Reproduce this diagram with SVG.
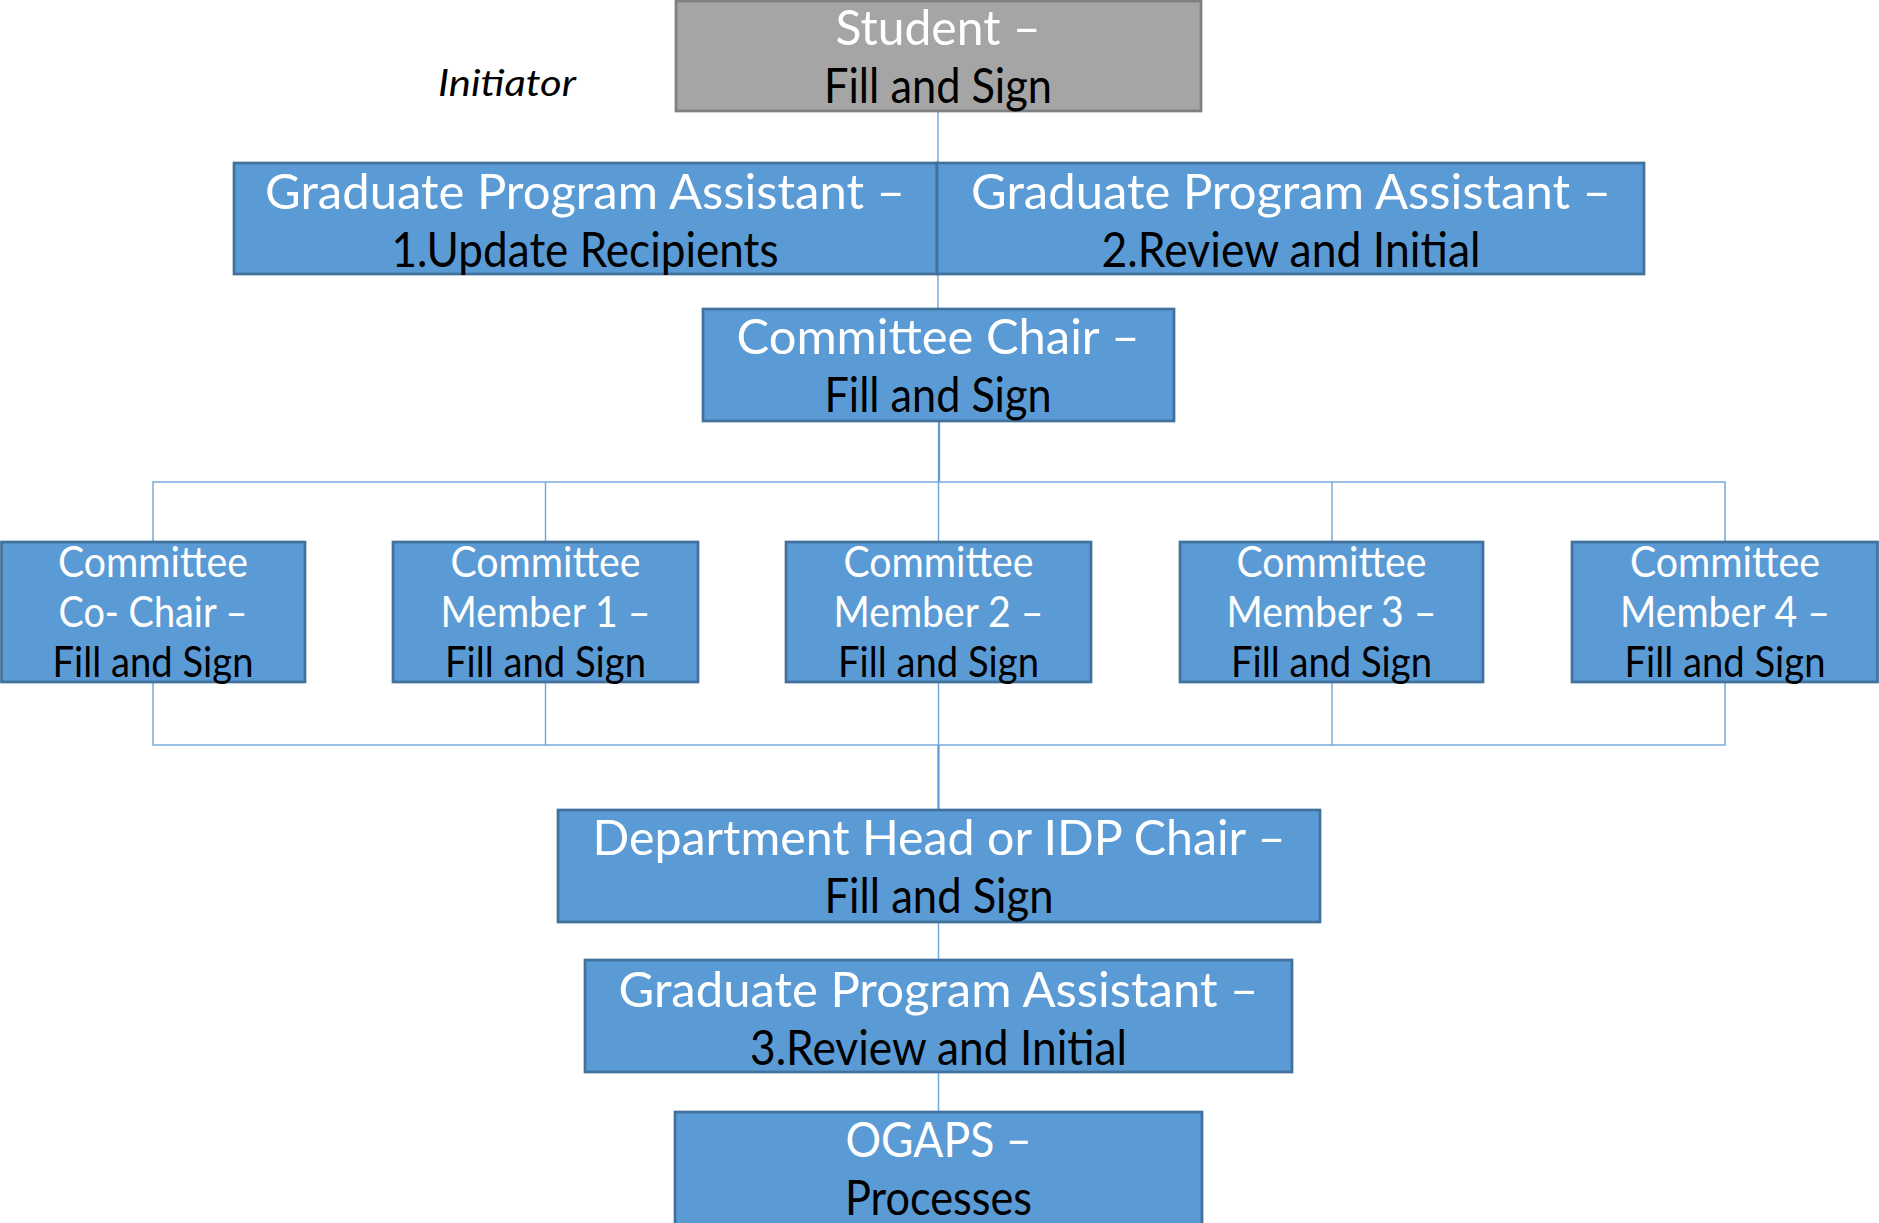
<svg xmlns="http://www.w3.org/2000/svg" width="1879" height="1223" viewBox="0 0 1879 1223">
<style>
  .box { fill: #5b9bd5; stroke: #41719c; stroke-width: 2.7; }
  .grey { fill: #a5a5a5; stroke: #7f7f7f; stroke-width: 2.7; }
  .conn { stroke: #7aaadc; stroke-width: 1.5; fill: none; }
  .connb { stroke: #5b9bd5; stroke-width: 2.2; fill: none; }
  text { font-family: Lato, "Open Sans", "Liberation Sans", sans-serif; text-anchor: middle; }
  .big { font-size: 49px; }
  .sm { font-size: 43px; }
  .w { fill: #ffffff; }
  .k { fill: #000000; }
</style>
<rect width="1879" height="1223" fill="#ffffff"/>
<g id="connectors">
  <line class="conn" x1="938" y1="111" x2="938" y2="163"/>
  <line class="conn" x1="938" y1="274" x2="938" y2="309"/>
  <line class="connb" x1="939" y1="421" x2="939" y2="482"/>
  <polyline class="conn" points="153,542 153,482 1725,482 1725,542"/>
  <line class="conn" x1="545.5" y1="482" x2="545.5" y2="542"/>
  <line class="conn" x1="938.5" y1="482" x2="938.5" y2="542"/>
  <line class="conn" x1="1332" y1="482" x2="1332" y2="542"/>
  <polyline class="conn" points="153,682 153,745 1725,745 1725,682"/>
  <line class="conn" x1="545.5" y1="682" x2="545.5" y2="745"/>
  <line class="conn" x1="938.5" y1="682" x2="938.5" y2="745"/>
  <line class="conn" x1="1332" y1="682" x2="1332" y2="745"/>
  <line class="connb" x1="938.5" y1="745" x2="938.5" y2="810"/>
  <line class="conn" x1="938.5" y1="922" x2="938.5" y2="960"/>
  <line class="conn" x1="938.5" y1="1072" x2="938.5" y2="1112"/>
</g>
<text x="507" y="96" font-size="37" font-style="italic" textLength="138" lengthAdjust="spacingAndGlyphs" fill="#000">Initiator</text>
<g id="student">
  <rect class="grey" x="676" y="1" width="525" height="110"/>
  <text class="big w" x="938" y="45" textLength="205" lengthAdjust="spacingAndGlyphs">Student –</text>
  <text class="big k" x="938" y="103" textLength="228" lengthAdjust="spacingAndGlyphs">Fill and Sign</text>
</g>
<g id="gpa1">
  <rect class="box" x="234" y="163" width="703" height="111"/>
  <text class="big w" x="585" y="209" textLength="640" lengthAdjust="spacingAndGlyphs">Graduate Program Assistant –</text>
  <text class="big k" x="585" y="267" textLength="387" lengthAdjust="spacingAndGlyphs">1.Update Recipients</text>
</g>
<g id="gpa2">
  <rect class="box" x="937" y="163" width="707" height="111"/>
  <text class="big w" x="1291" y="209" textLength="640" lengthAdjust="spacingAndGlyphs">Graduate Program Assistant –</text>
  <text class="big k" x="1291" y="267" textLength="379" lengthAdjust="spacingAndGlyphs">2.Review and Initial</text>
</g>
<g id="chair">
  <rect class="box" x="703" y="309" width="471" height="112"/>
  <text class="big w" x="938" y="354" textLength="403" lengthAdjust="spacingAndGlyphs">Committee Chair –</text>
  <text class="big k" x="938" y="412" textLength="227" lengthAdjust="spacingAndGlyphs">Fill and Sign</text>
</g>
<g id="cochair">
  <rect class="box" x="1.5" y="542" width="303.5" height="140"/>
  <text class="sm w" x="153" y="577" textLength="190" lengthAdjust="spacingAndGlyphs">Committee</text>
  <text class="sm w" x="153" y="627" textLength="189" lengthAdjust="spacingAndGlyphs">Co- Chair –</text>
  <text class="sm k" x="153" y="677" textLength="201" lengthAdjust="spacingAndGlyphs">Fill and Sign</text>
</g>
<g id="member1">
  <rect class="box" x="393" y="542" width="305" height="140"/>
  <text class="sm w" x="545.5" y="577" textLength="190" lengthAdjust="spacingAndGlyphs">Committee</text>
  <text class="sm w" x="545.5" y="627" textLength="210" lengthAdjust="spacingAndGlyphs">Member 1 –</text>
  <text class="sm k" x="545.5" y="677" textLength="201" lengthAdjust="spacingAndGlyphs">Fill and Sign</text>
</g>
<g id="member2">
  <rect class="box" x="786" y="542" width="305" height="140"/>
  <text class="sm w" x="938.5" y="577" textLength="190" lengthAdjust="spacingAndGlyphs">Committee</text>
  <text class="sm w" x="938.5" y="627" textLength="210" lengthAdjust="spacingAndGlyphs">Member 2 –</text>
  <text class="sm k" x="938.5" y="677" textLength="201" lengthAdjust="spacingAndGlyphs">Fill and Sign</text>
</g>
<g id="member3">
  <rect class="box" x="1180" y="542" width="303" height="140"/>
  <text class="sm w" x="1331.5" y="577" textLength="190" lengthAdjust="spacingAndGlyphs">Committee</text>
  <text class="sm w" x="1331.5" y="627" textLength="210" lengthAdjust="spacingAndGlyphs">Member 3 –</text>
  <text class="sm k" x="1331.5" y="677" textLength="201" lengthAdjust="spacingAndGlyphs">Fill and Sign</text>
</g>
<g id="member4">
  <rect class="box" x="1572" y="542" width="305.5" height="140"/>
  <text class="sm w" x="1725" y="577" textLength="190" lengthAdjust="spacingAndGlyphs">Committee</text>
  <text class="sm w" x="1725" y="627" textLength="210" lengthAdjust="spacingAndGlyphs">Member 4 –</text>
  <text class="sm k" x="1725" y="677" textLength="201" lengthAdjust="spacingAndGlyphs">Fill and Sign</text>
</g>
<g id="depthead">
  <rect class="box" x="558" y="810" width="762" height="112"/>
  <text class="big w" x="939" y="855" textLength="693" lengthAdjust="spacingAndGlyphs">Department Head or IDP Chair –</text>
  <text class="big k" x="939" y="913" textLength="229" lengthAdjust="spacingAndGlyphs">Fill and Sign</text>
</g>
<g id="gpa3">
  <rect class="box" x="585" y="960" width="707" height="112"/>
  <text class="big w" x="938.5" y="1007" textLength="640" lengthAdjust="spacingAndGlyphs">Graduate Program Assistant –</text>
  <text class="big k" x="938.5" y="1065" textLength="377" lengthAdjust="spacingAndGlyphs">3.Review and Initial</text>
</g>
<g id="ogaps">
  <rect class="box" x="675" y="1112" width="527" height="120"/>
  <text class="big w" x="938.5" y="1157" textLength="186" lengthAdjust="spacingAndGlyphs">OGAPS –</text>
  <text class="big k" x="938.5" y="1215" textLength="187" lengthAdjust="spacingAndGlyphs">Processes</text>
</g>
</svg>
